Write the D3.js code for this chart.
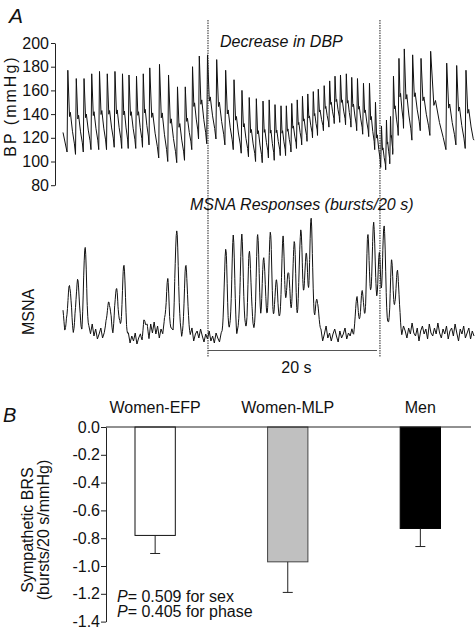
<!DOCTYPE html>
<html><head><meta charset="utf-8">
<script src="https://cdn.jsdelivr.net/npm/d3@7"></script>
<style>
html,body{margin:0;padding:0;background:#fff;}
svg{display:block;}
text{font-family:"Liberation Sans",Arial,Helvetica,sans-serif;fill:#111;}
</style>
</head><body><svg id="c" width="476" height="632"></svg>
<script>
// ---------------- Panel A data ----------------
const traceEnd = 48.64;                 // seconds shown
const bpTicks = [80, 100, 120, 140, 160, 180, 200];
// beat peak times (s), systolic peaks and preceding diastolic troughs (mmHg)
const beatTime = [0.57,1.57,2.49,3.40,4.32,5.24,6.15,7.04,7.81,8.70,
  9.50,10.27,11.42,12.49,13.55,14.47,15.33,16.13,17.10,18.19,
  19.25,20.24,21.18,22.04,22.88,23.67,24.40,25.09,25.80,26.43,
  27.07,27.72,28.34,28.97,29.62,30.21,30.91,31.56,32.19,32.84,
  33.53,34.17,34.85,35.56,36.27,36.98,37.69,38.28,38.76,39.11,
  39.76,40.39,41.38,42.37,43.51,45.41,46.59,47.69];
const systolic = [177,170,170,174,176,174,176,174,173,172,
  174,179,182,173,163,163,180,189,190,186,
  177,169,160,154,153,151,152,148,147,147,
  149,152,155,157,159,161,164,168,172,173,
  174,171,170,166,166,150,130,135,138,172,
  187,195,190,187,193,183,181,177];
const diastolic = [108,106,108,110,110,110,112,111,111,111,
  112,114,103,100,99,101,110,119,115,119,
  114,110,107,104,100,99,103,101,105,105,
  108,111,114,117,120,122,126,129,132,133,
  131,129,126,123,121,110,95,93,98,106,
  122,128,118,126,122,110,114,111];
const bpStart = 124.5, bpEnd = 118;
const markerTimes = [17.16, 37.51];
const scaleBarStart = 17.16, scaleBarLen = 20;
// MSNA bursts: times (s) and amplitudes (a.u.)
const burstTime = [-0.06,0.77,1.72,2.63,5.44,6.36,7.22,9.70,12.39,13.46,14.56,
  19.25,20.15,21.16,22.07,23.04,23.76,24.53,25.27,26.04,26.66,
  27.36,28.14,28.76,29.37,30.09,
  34.76,35.38,36.09,36.77,37.43,38.01,38.90,39.59];
const burstAmp = [22,54,57,88,37,46,69,12,50,109,69,
  90,94,94,80,94,75,100,52,90,65,
  93,106,83,115,39,
  30,41,96,114,78,105,69,66];
// MSNA baseline noise (a.u.), evenly spaced over the trace
const msnaNoise = [0,-7,5,-3,-10,2,-5,3,-8,-2,5,-7,
  2,-5,-12,0,-3,7,-5,2,-8,-3,3,-7,
  -2,5,-3,-10,2,-5,7,-2,-8,3,-3,0,
  -7,-11,-3,-12,-5,-10,-2,-13,-7,-3,-11,2,
  -5,3,-8,7,-2,9,-3,5,-7,2,-3,8,
  -2,3,-8,0,-5,5,-10,-2,3,-7,-3,2,
  -8,-2,-5,3,-10,-3,0,-7,2,-5,-11,-3,
  -8,0,-10,-5,-12,-2,-7,-11,-3,-8,-13,-5,
  -10,-2,-7,2,-5,-10,0,-3,3,-5,0,-7,
  2,-3,5,-2,-7,3,0,-5,2,-3,3,-2,
  -5,2,-3,3,0,-5,2,-2,5,-3,0,-7,
  3,-2,-8,2,-3,5,-7,0,-2,-10,3,-5,
  0,-8,-3,2,-11,-5,0,-10,-3,5,-7,-2,
  -10,-3,2,-5,-11,0,-7,-3,3,-8,-2,-5,
  2,-7,-3,5,-2,-8,0,3,-5,2,-3,7,
  -2,-7,3,-3,0,-8,5,-2,-5,2,-7,3,
  -3,7,-2,-8,2,-5,5,0,-7,3,-3,8,
  -2,-5,3,-10,0,5,-3,2,-8,7,-2,-5,
  3,-3,8,-2,-7,2,-3,5,-8,0,3,-5,
  7,-2,-10,2,-3,5,-7,-2,3,-8,0,-5];

// ---------------- Panel B data ----------------
const groups = ["Women-EFP", "Women-MLP", "Men"];
const brsMean = [-0.78, -0.97, -0.73];
const brsSE = [0.13, 0.22, 0.13];
const brsTicks = [0, -0.2, -0.4, -0.6, -0.8, -1.0, -1.2, -1.4];
const pValues = ["0.509", "0.405"];
const pFactors = ["sex", "phase"];

// ---------------- styles ----------------
const barFill = ["#ffffff", "#c0c0c0", "#000000"];
const barStroke = ["#111", "#444", "#000"];
const ink = "#111";

const svg = d3.select("#c");
svg.append("rect").attr("width", 476).attr("height", 632).attr("fill", "#fff");

// ---------- Panel A ----------
const xT = d3.scaleLinear().domain([0, traceEnd]).range([63, 474]);
const yBP = d3.scaleLinear().domain([80, 200]).range([185.2, 43]);
const yM = d3.scaleLinear().domain([0, 120]).range([331, 211]);

function styleAxis(g) {
  g.attr("font-family", null).attr("font-size", null);
  g.select(".domain").attr("stroke", "#222");
  g.selectAll(".tick line").attr("stroke", "#222");
  g.selectAll(".tick text").attr("font-size", 16).attr("fill", ink);
}

svg.append("g").attr("transform", "translate(55,0)")
  .call(d3.axisLeft(yBP).tickValues(bpTicks).tickSize(4).tickSizeOuter(0).tickPadding(2))
  .call(styleAxis);

// BP waveform built from beat data
const bpPts = [[0, bpStart]];
const nb = beatTime.length;
for (let i = 0; i < nb; i++) {
  const t = beatTime[i], s = systolic[i], d = diastolic[i];
  const last = i === nb - 1;
  const tn = last ? t + 1.1 : beatTime[i + 1];
  const dn = last ? diastolic[i] : diastolic[i + 1];
  const T = tn - t;
  const notch = dn + 0.45 * (s - dn);
  const bump = notch + 0.05 * (s - dn);
  bpPts.push([t - 0.09, d], [t, s], [t + 0.2 * T, notch], [t + 0.3 * T, bump],
    [t + 0.55 * T, dn + 0.55 * (bump - dn)], [t + 0.78 * T, dn + 0.25 * (bump - dn)]);
}
const bpLine = bpPts.filter(p => p[0] < traceEnd);
bpLine.push([traceEnd, bpEnd]);
svg.append("path").datum(bpLine)
  .attr("d", d3.line().x(p => xT(p[0])).y(p => yBP(p[1])))
  .attr("fill", "none").attr("stroke", ink).attr("stroke-width", 1)
  .attr("stroke-linejoin", "round");

// MSNA trace
const nStep = traceEnd / (msnaNoise.length - 1);
function noiseAt(t) {
  const k = Math.max(0, Math.min(msnaNoise.length - 1.0001, t / nStep));
  const i = Math.floor(k), f = k - i;
  return msnaNoise[i] * (1 - f) + msnaNoise[Math.min(i + 1, msnaNoise.length - 1)] * f;
}
const sig = 0.18;
let ts = msnaNoise.map((_, i) => i * nStep);
burstTime.forEach(bt => { for (let k = -7; k <= 7; k++) ts.push(bt + k * 0.06); });
ts = ts.filter(t => t >= 0 && t <= traceEnd).sort((a, b) => a - b);
const msnaPts = ts.map(t => {
  let v = noiseAt(t);
  burstTime.forEach((bt, j) => { const dt = t - bt; v += burstAmp[j] * Math.exp(-dt * dt / (2 * sig * sig)); });
  return [t, v];
});
svg.append("path").datum(msnaPts)
  .attr("d", d3.line().x(p => xT(p[0])).y(p => yM(p[1])))
  .attr("fill", "none").attr("stroke", ink).attr("stroke-width", 1)
  .attr("stroke-linejoin", "round");

// marker lines
markerTimes.forEach(t => {
  svg.append("line").attr("x1", xT(t)).attr("x2", xT(t)).attr("y1", 20).attr("y2", 357)
    .attr("stroke", "#222").attr("stroke-width", 1).attr("stroke-dasharray", "1.5,1");
});
// 20 s scale bar
svg.append("line").attr("x1", xT(scaleBarStart)).attr("x2", xT(scaleBarStart + scaleBarLen))
  .attr("y1", 350.5).attr("y2", 350.5).attr("stroke", "#555").attr("stroke-width", 1);
svg.append("text").attr("x", (xT(scaleBarStart) + xT(scaleBarStart + scaleBarLen)) / 2 + 4)
  .attr("y", 373).attr("text-anchor", "middle").attr("font-size", 16).text("20 s");

// labels panel A
svg.append("text").attr("x", 9).attr("y", 23).attr("font-size", 21).attr("font-style", "italic").text("A");
svg.append("text").attr("x", 220).attr("y", 46.5).attr("font-size", 16).attr("font-style", "italic").text("Decrease in DBP");
svg.append("text").attr("x", 190).attr("y", 210).attr("font-size", 16).attr("font-style", "italic").text("MSNA Responses (bursts/20 s)");
svg.append("text").attr("transform", "translate(15.5,106) rotate(-90)").attr("text-anchor", "middle")
  .attr("font-size", 16).attr("letter-spacing", 2).text("BP (mmHg)");
svg.append("text").attr("transform", "translate(33.5,312) rotate(-90)").attr("text-anchor", "middle")
  .attr("font-size", 16).text("MSNA");

// ---------- Panel B ----------
const yB = d3.scaleLinear().domain([-1.4, 0]).range([621.6, 427]);
const xB = d3.scaleBand().domain(groups).range([135, 440.5]).paddingInner(0.696).paddingOuter(0);

svg.append("g").attr("transform", "translate(106,0)")
  .call(d3.axisLeft(yB).tickValues(brsTicks).tickFormat(d => d.toFixed(1)).tickSize(5).tickSizeOuter(0).tickPadding(1))
  .call(styleAxis);

groups.forEach((g, i) => {
  const x0 = xB(g), bw = xB.bandwidth(), cx = x0 + bw / 2;
  svg.append("rect").attr("x", x0).attr("y", yB(0)).attr("width", bw)
    .attr("height", yB(brsMean[i]) - yB(0))
    .attr("fill", barFill[i]).attr("stroke", barStroke[i]).attr("stroke-width", 1);
  const yE = yB(brsMean[i] - brsSE[i]);
  svg.append("line").attr("x1", cx).attr("x2", cx).attr("y1", yB(brsMean[i])).attr("y2", yE)
    .attr("stroke", "#222").attr("stroke-width", 1);
  svg.append("line").attr("x1", cx - 5).attr("x2", cx + 5).attr("y1", yE).attr("y2", yE)
    .attr("stroke", "#222").attr("stroke-width", 1);
  svg.append("text").attr("x", cx).attr("y", 413).attr("text-anchor", "middle")
    .attr("font-size", 16).text(g);
});
// zero line
svg.append("line").attr("x1", 106).attr("x2", 471).attr("y1", yB(0)).attr("y2", yB(0))
  .attr("stroke", "#222").attr("stroke-width", 1);

svg.append("text").attr("x", 3).attr("y", 421.5).attr("font-size", 20).attr("font-style", "italic").text("B");
svg.append("text").attr("transform", "translate(32.5,530) rotate(-90)").attr("text-anchor", "middle")
  .attr("font-size", 16).text("Sympathetic BRS");
svg.append("text").attr("transform", "translate(49,530) rotate(-90)").attr("text-anchor", "middle")
  .attr("font-size", 16).text("(bursts/20 s/mmHg)");

pValues.forEach((p, i) => {
  const t = svg.append("text").attr("x", 117).attr("y", 601.5 + i * 15.5).attr("font-size", 16);
  t.append("tspan").attr("font-style", "italic").text("P");
  t.append("tspan").text("= " + p + " for " + pFactors[i]);
});
</script></body></html>
